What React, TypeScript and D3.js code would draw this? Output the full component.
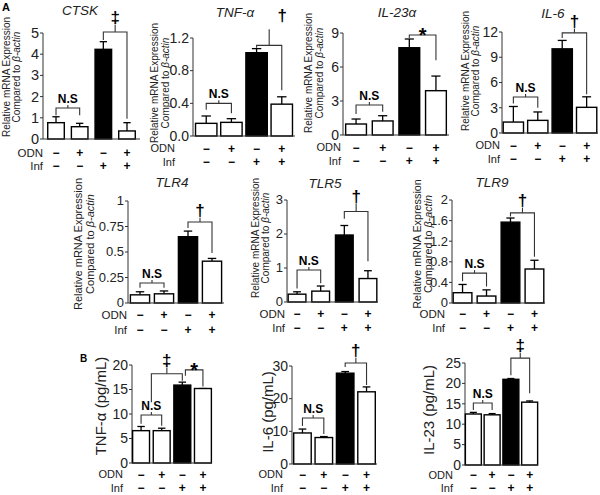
import * as d3 from 'd3'

const odnSigns = ['−', '+', '−', '+']
const infSigns = ['−', '−', '+', '+']

// A: relative mRNA expression (mean, SEM)
const ctskMean = [0.77, 0.58, 4.23, 0.38]
const ctskErr = [0.28, 0.16, 0.36, 0.39]
const ctskTicks = [0, 1, 2, 3, 4, 5]

const tnfMean = [0.155, 0.167, 1.02, 0.39]
const tnfErr = [0.09, 0.045, 0.05, 0.09]
const tnfTicks = [0, 0.4, 0.8, 1.2]

const il23aMean = [0.97, 1.24, 7.7, 3.91]
const il23aErr = [0.44, 0.46, 0.77, 1.29]
const il23aTicks = [0, 3, 6, 9]

const il6Mean = [1.3, 1.5, 10.0, 3.05]
const il6Err = [1.85, 1.0, 1.0, 1.25]
const il6Ticks = [0, 3, 6, 9, 12]

const tlr4Mean = [0.08, 0.09, 0.65, 0.41]
const tlr4Err = [0.03, 0.028, 0.055, 0.027]
const tlr4Ticks = [0, 0.25, 0.5, 0.75, 1]

const tlr5Mean = [0.23, 0.32, 1.97, 0.69]
const tlr5Err = [0.07, 0.15, 0.28, 0.23]
const tlr5Ticks = [0, 1, 2, 3]

const tlr9Mean = [0.2, 0.135, 1.57, 0.66]
const tlr9Err = [0.16, 0.12, 0.08, 0.17]
const tlr9Ticks = [0, 0.4, 0.8, 1.2, 1.6, 2]

// B: protein (pg/mL)
const tnfBMean = [6.6, 6.6, 15.9, 15.2]
const tnfBErr = [0.85, 0.5, 0.6, 0]
const tnfBTicks = [0, 5, 10, 15, 20]

const il6BMean = [9.5, 8.1, 27.8, 22.1]
const il6BErr = [1.2, 0.3, 0.5, 1.5]
const il6BTicks = [0, 10, 20, 30]

const il23BMean = [12.5, 12.3, 21.0, 15.4]
const il23BErr = [0.4, 0.3, 0.2, 0.3]
const il23BTicks = [0, 5, 10, 15, 20, 25]

const FONT = '"Liberation Sans", Arial, sans-serif'

interface Bracket {
  a: number
  b: number
  level: number
  legA: number
  legB: number
  label: string
  tick?: number
  dx?: number
  dy?: number
}

interface PanelCfg {
  title?: string
  titleX?: number
  titleY?: number
  mean: number[]
  err: number[]
  ticks: number[]
  fmt: (d: number) => string
  left: number
  right: number
  bottom: number
  top: number
  padIn: number
  padOut: number
  ylab: string[]
  ylabX: number[]
  ylabY: number
  ylabSize: number
  rowY: number[]
  rowX: number
  rowSize: number
  tickSize: number
  brackets: Bracket[]
}

const plain = (d: number) => String(d)
const oneDec = d3.format('.1f')
const NS = 'N.S'

const labA = ['Relative mRNA Expression', 'Compared to ']

const panels: PanelCfg[] = [
  {
    title: 'CTSK', titleX: 80, titleY: 15,
    mean: ctskMean, err: ctskErr, ticks: ctskTicks, fmt: plain,
    left: 43, right: 140, bottom: 139, top: 33, padIn: 0.3, padOut: 0.2,
    ylab: labA, ylabX: [9.5, 19.5], ylabY: 77, ylabSize: 10,
    rowY: [152.5, 166], rowX: 43, rowSize: 12, tickSize: 14.5,
    brackets: [
      { a: 0, b: 1, level: 1.46, legA: 1.12, legB: 1.12, label: NS },
      { a: 2, b: 3, level: 5.05, legA: 4.67, legB: 0.95, label: '‡', tick: 7 },
    ],
  },
  {
    title: 'TNF-α', titleX: 235, titleY: 17,
    mean: tnfMean, err: tnfErr, ticks: tnfTicks, fmt: oneDec,
    left: 193, right: 295, bottom: 136, top: 38, padIn: 0.15, padOut: 0.1,
    ylab: labA, ylabX: [157.5, 168.5], ylabY: 83, ylabSize: 10,
    rowY: [148.5, 162], rowX: 175, rowSize: 11.5, tickSize: 14,
    brackets: [
      { a: 0, b: 1, level: 0.4, legA: 0.32, legB: 0.28, label: NS },
      { a: 2, b: 3, level: 1.11, legA: 1.08, legB: 0.56, label: '†', tick: 16, dx: 13, dy: -6 },
    ],
  },
  {
    title: 'IL-23α', titleX: 397, titleY: 17,
    mean: il23aMean, err: il23aErr, ticks: il23aTicks, fmt: plain,
    left: 343, right: 449, bottom: 135, top: 33, padIn: 0.22, padOut: 0.1,
    ylab: labA, ylabX: [311.5, 322.5], ylabY: 73, ylabSize: 10,
    rowY: [147.5, 161], rowX: 341, rowSize: 11.5, tickSize: 14,
    brackets: [
      { a: 0, b: 1, level: 2.65, legA: 1.85, legB: 2.05, label: NS },
      { a: 2, b: 3, level: 8.83, legA: 8.55, legB: 6.6, label: '*' },
    ],
  },
  {
    title: 'IL-6', titleX: 553, titleY: 18,
    mean: il6Mean, err: il6Err, ticks: il6Ticks, fmt: plain,
    left: 502, right: 598, bottom: 133, top: 32, padIn: 0.17, padOut: 0.05,
    ylab: labA, ylabX: [468.5, 478.5], ylabY: 71, ylabSize: 10,
    rowY: [145.5, 159], rowX: 500, rowSize: 11.5, tickSize: 14,
    brackets: [
      { a: 0, b: 1, level: 4.28, legA: 3.5, legB: 3.0, label: NS },
      { a: 2, b: 3, level: 11.9, legA: 11.3, legB: 4.6, label: '†', tick: 4 },
    ],
  },
  {
    title: 'TLR4', titleX: 172, titleY: 187,
    mean: tlr4Mean, err: tlr4Err, ticks: tlr4Ticks, fmt: plain,
    left: 128, right: 224, bottom: 303, top: 201, padIn: 0.2, padOut: 0.1,
    ylab: labA, ylabX: [82, 94], ylabY: 244, ylabSize: 11,
    rowY: [315, 330], rowX: 127, rowSize: 12, tickSize: 13,
    brackets: [
      { a: 0, b: 1, level: 0.196, legA: 0.15, legB: 0.15, label: NS },
      { a: 2, b: 3, level: 0.794, legA: 0.735, legB: 0.49, label: '†', tick: 4 },
    ],
  },
  {
    title: 'TLR5', titleX: 325, titleY: 188,
    mean: tlr5Mean, err: tlr5Err, ticks: tlr5Ticks, fmt: plain,
    left: 287, right: 378, bottom: 302, top: 200, padIn: 0.25, padOut: 0.05,
    ylab: labA, ylabX: [258.5, 269], ylabY: 238, ylabSize: 10,
    rowY: [314, 328], rowX: 285, rowSize: 12, tickSize: 13,
    brackets: [
      { a: 0, b: 1, level: 0.94, legA: 0.4, legB: 0.55, label: NS },
      { a: 2, b: 3, level: 2.66, legA: 2.45, legB: 1.2, label: '†', tick: 8 },
    ],
  },
  {
    title: 'TLR9', titleX: 492, titleY: 187,
    mean: tlr9Mean, err: tlr9Err, ticks: tlr9Ticks, fmt: plain,
    left: 452, right: 545, bottom: 303, top: 200, padIn: 0.22, padOut: 0.05,
    ylab: labA, ylabX: [421, 432], ylabY: 244, ylabSize: 10.8,
    rowY: [314, 328], rowX: 445, rowSize: 12, tickSize: 13,
    brackets: [
      { a: 0, b: 1, level: 0.58, legA: 0.42, legB: 0.32, label: NS },
      { a: 2, b: 3, level: 1.75, legA: 1.68, legB: 0.9, label: '†', tick: 5 },
    ],
  },
  {
    mean: tnfBMean, err: tnfBErr, ticks: tnfBTicks, fmt: plain,
    left: 132, right: 212, bottom: 463, top: 365, padIn: 0.18, padOut: 0.03,
    ylab: ['TNF-α (pg/mL)'], ylabX: [105.5], ylabY: 406, ylabSize: 15,
    rowY: [474.5, 488], rowX: 123, rowSize: 11.5, tickSize: 14,
    brackets: [
      { a: 0, b: 1, level: 9.8, legA: 8.0, legB: 7.6, label: NS },
      { a: 0.5, b: 2, level: 18.2, legA: 12.4, legB: 16.8, label: '‡', tick: 6 },
      { a: 2.15, b: 3, level: 19.0, legA: 17.8, legB: 15.6, label: '*' },
    ],
  },
  {
    mean: il6BMean, err: il6BErr, ticks: il6BTicks, fmt: plain,
    left: 292, right: 377, bottom: 464, top: 366, padIn: 0.18, padOut: 0.08,
    ylab: ['IL-6 (pg/mL)'], ylabX: [272.5], ylabY: 412, ylabSize: 15,
    rowY: [474.5, 488], rowX: 283, rowSize: 11.5, tickSize: 14,
    brackets: [
      { a: 0, b: 1, level: 14.1, legA: 11.6, legB: 9.2, label: NS },
      { a: 2, b: 3, level: 30.9, legA: 29.7, legB: 24.2, label: '†', tick: 5 },
    ],
  },
  {
    mean: il23BMean, err: il23BErr, ticks: il23BTicks, fmt: plain,
    left: 465, right: 538, bottom: 465, top: 363, padIn: 0.15, padOut: 0.02,
    ylab: ['IL-23 (pg/mL)'], ylabX: [433.5], ylabY: 410, ylabSize: 15,
    rowY: [475, 488], rowX: 453, rowSize: 11.5, tickSize: 14,
    brackets: [
      { a: 0, b: 1, level: 15.2, legA: 13.5, legB: 13.5, label: NS },
      { a: 2, b: 3, level: 26.2, legA: 22, legB: 17.6, label: '‡', tick: 5 },
    ],
  },
]

function Panel({ c }: { c: PanelCfg }) {
  const y = d3.scaleLinear().domain([0, d3.max(c.ticks)!]).range([c.bottom, c.top])
  const x = d3
    .scaleBand<number>()
    .domain(d3.range(c.mean.length))
    .range([c.left, c.right])
    .paddingInner(c.padIn)
    .paddingOuter(c.padOut)
  const bw = x.bandwidth()
  const cx = (i: number) => x(0)! + bw / 2 + i * x.step()
  const cap = bw * 0.22

  return (
    <g>
      {c.title && (
        <text x={c.titleX} y={c.titleY} textAnchor="middle" fontSize={13.5} fontStyle="italic" fill="#222">
          {c.title}
        </text>
      )}

      {/* y label */}
      {c.ylab.map((t, k) => (
        <text
          key={k}
          transform={`translate(${c.ylabX[k]},${c.ylabY}) rotate(-90)`}
          textAnchor="middle"
          fontSize={c.ylabSize}
          fill="#222"
        >
          {t}
          {k === 1 && <tspan fontStyle="italic">β-actin</tspan>}
        </text>
      ))}

      {/* y axis */}
      <line x1={c.left} x2={c.left} y1={c.bottom} y2={c.top} stroke="#333" strokeWidth={1} />
      {c.ticks.map((t) => (
        <g key={t}>
          <line x1={c.left - 3} x2={c.left} y1={y(t)} y2={y(t)} stroke="#333" />
          <text x={c.left - 4} y={y(t)} dy="0.34em" textAnchor="end" fontSize={c.tickSize} fill="#222">
            {c.fmt(t)}
          </text>
        </g>
      ))}

      {/* bars + error bars */}
      {c.mean.map((m, i) => {
        const top = y(m + c.err[i])
        return (
          <g key={i}>
            <line x1={cx(i)} x2={cx(i)} y1={y(m)} y2={top} stroke="#000" strokeWidth={1.3} />
            <line x1={cx(i) - cap} x2={cx(i) + cap} y1={top} y2={top} stroke="#000" strokeWidth={1.3} />
            <rect
              x={x(i)}
              y={y(m)}
              width={bw}
              height={c.bottom - y(m)}
              fill={i === 2 ? '#000' : '#fff'}
              stroke="#000"
              strokeWidth={1.4}
            />
          </g>
        )
      })}

      {/* x axis */}
      <line x1={c.left} x2={c.right} y1={c.bottom} y2={c.bottom} stroke="#333" strokeWidth={1} />

      {/* significance brackets */}
      {c.brackets.map((b, k) => {
        const ya = y(b.level)
        const mid = (cx(b.a) + cx(b.b)) / 2
        const isNS = b.label === NS
        const isStar = b.label === '*'
        const tick = b.tick ?? (isNS ? 3 : 0)
        let base = isStar ? ya + 7 : ya - tick - 2
        base += b.dy ?? 0
        return (
          <g key={k}>
            <path
              d={`M${cx(b.a)},${y(b.legA)}V${ya}H${cx(b.b)}V${y(b.legB)}`}
              fill="none"
              stroke="#333"
              strokeWidth={1.1}
            />
            {tick > 0 && <line x1={mid} x2={mid} y1={ya} y2={ya - tick} stroke="#333" strokeWidth={1.1} />}
            <text
              x={mid + (b.dx ?? 0)}
              y={base}
              textAnchor="middle"
              fontWeight="bold"
              fontSize={isNS ? 12 : isStar ? 20 : 17}
            >
              {b.label}
            </text>
          </g>
        )
      })}

      {/* treatment rows */}
      {['ODN', 'Inf'].map((lab, r) => (
        <g key={lab}>
          <text x={c.rowX} y={c.rowY[r]} dy="0.36em" textAnchor="end" fontSize={c.rowSize - 0.5} fill="#222">
            {lab}
          </text>
          {(r === 0 ? odnSigns : infSigns).map((s, i) => (
            <text
              key={i}
              x={cx(i)}
              y={c.rowY[r]}
              dy="0.36em"
              textAnchor="middle"
              fontSize={12}
              fontWeight="bold"
            >
              {s}
            </text>
          ))}
        </g>
      ))}
    </g>
  )
}

export default function App() {
  return (
    <svg
      width={600}
      height={495}
      style={{ position: 'absolute', left: 0, top: 0, background: '#fff' }}
      fontFamily={FONT}
    >
      <text x={2} y={11} fontSize={11} fontWeight="bold">A</text>
      <text x={80} y={362} fontSize={10} fontWeight="bold">B</text>
      {panels.map((p, i) => (
        <Panel key={i} c={p} />
      ))}
    </svg>
  )
}
